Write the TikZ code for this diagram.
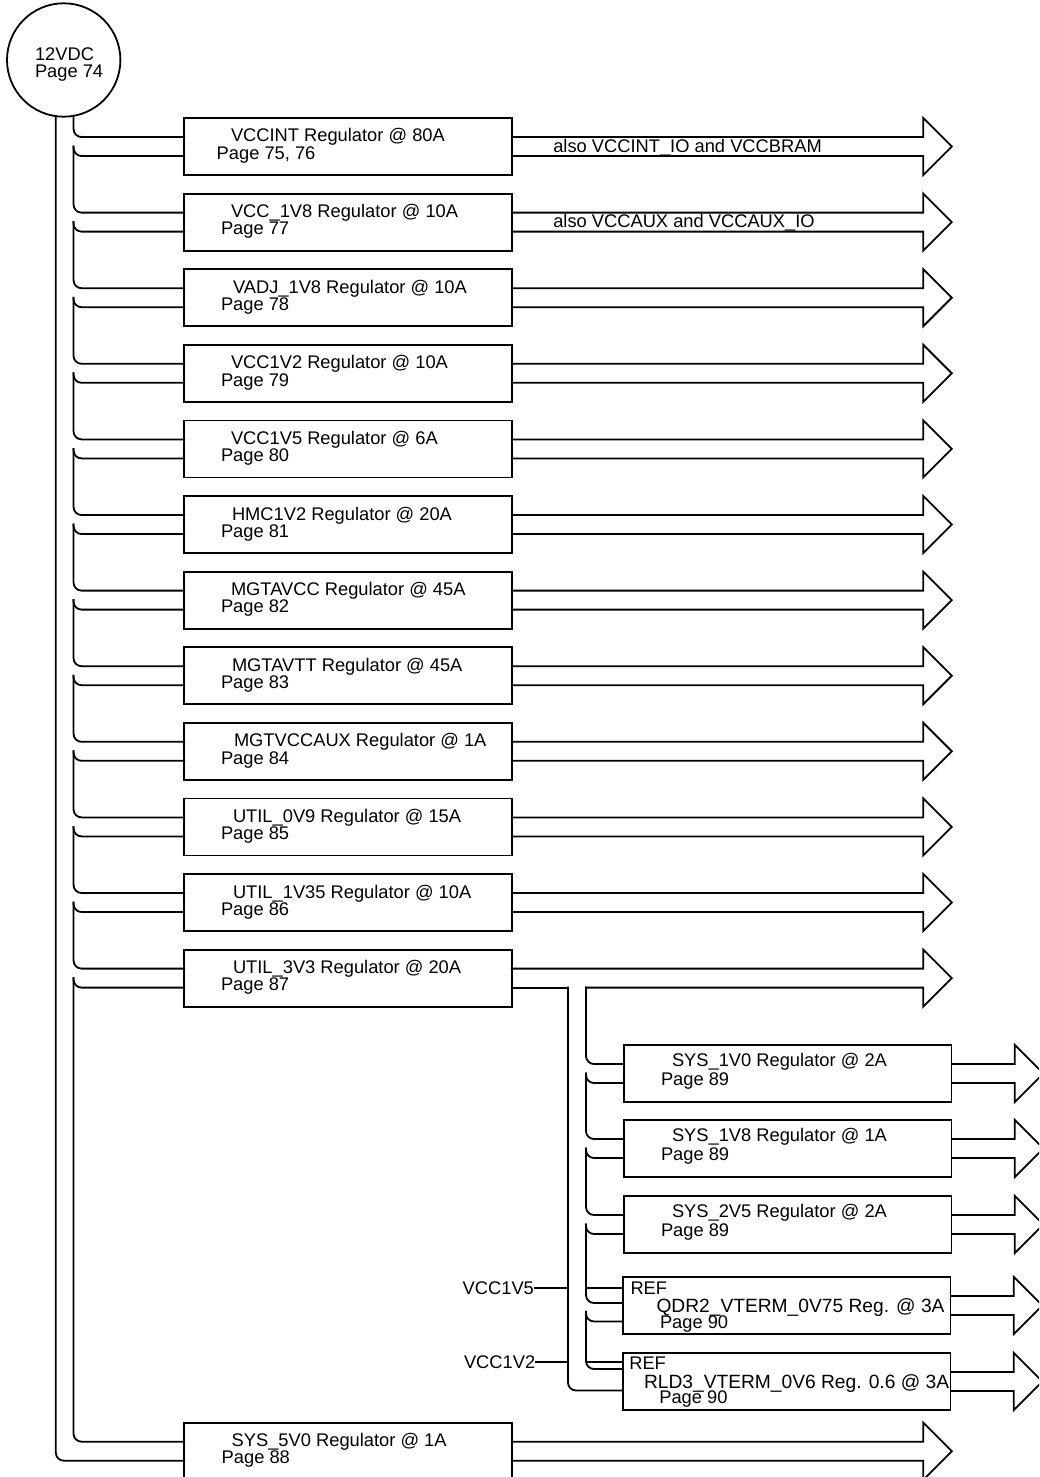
\documentclass[tikz,border=0pt]{standalone}
\usepackage{fontspec}
\setmainfont{Liberation Sans}

\begin{document}
\begin{tikzpicture}[x=1pt,y=-1pt,line width=1.8pt,
  every node/.style={font=\fontsize{18.3}{20}\selectfont, inner sep=0pt, outer sep=0pt},
  reg/.style={draw, anchor=north west, minimum width=327.5pt, minimum height=57pt},
  txt/.style={anchor=base west},
  wide/.style={font=\fontsize{19.2}{20}\selectfont},
  wire/.style={rounded corners=8pt, line cap=rect},
  outarrow/.style={insert path={-- ++(#1,0) -- ++(0,-19) -- ++(28.5,28.5) -- ++(-28.5,28.5) -- ++(0,-19)}}]
  \useasboundingbox (0,0) rectangle (1039,1477);
  \clip (0,0) rectangle (1039,1477);

  % input
  \node[draw, circle, minimum size=113.4pt] (vin) at (63.7,60) {};
  \node[txt] (vin1) at (35,61) {12VDC};
  \node[txt] (vin2) at (35,77.3) {Page 74};
  \coordinate (bus) at (vin.-80.56);
  \coordinate (gnd) at (vin.-98.82);

  % main regulators
  \node[reg] (r1) at (184.3,118) {};
  \node[txt] (r1a) at (231,142) {VCCINT Regulator @ 80A};
  \node[txt] (r1b) at (216.7,159.3) {Page 75, 76};
  \node[txt] (r1c) at (553.3,152.3) {also VCCINT\_IO and VCCBRAM};
  \node[reg] (r2) at (184.3,193.6) {};
  \node[txt] (r2a) at (231,217.6) {VCC\_1V8 Regulator @ 10A};
  \node[txt] (r2b) at (221,234.9) {Page 77};
  \node[txt] (r2c) at (553.3,227.7) {also VCCAUX and VCCAUX\_IO};
  \node[reg] (r3) at (184.3,269.2) {};
  \node[txt] (r3a) at (233,293.2) {VADJ\_1V8 Regulator @ 10A};
  \node[txt] (r3b) at (221,310.5) {Page 78};
  \node[reg] (r4) at (184.3,344.8) {};
  \node[txt] (r4a) at (231,368.8) {VCC1V2 Regulator @ 10A};
  \node[txt] (r4b) at (221,386.1) {Page 79};
  \node[reg] (r5) at (184.3,420.4) {};
  \node[txt] (r5a) at (231,444.4) {VCC1V5 Regulator @ 6A};
  \node[txt] (r5b) at (221,461.7) {Page 80};
  \node[reg] (r6) at (184.3,496) {};
  \node[txt] (r6a) at (232,520) {HMC1V2 Regulator @ 20A};
  \node[txt] (r6b) at (221,537.3) {Page 81};
  \node[reg] (r7) at (184.3,571.6) {};
  \node[txt] (r7a) at (231,595.6) {MGTAVCC Regulator @ 45A};
  \node[txt] (r7b) at (221,612.9) {Page 82};
  \node[reg] (r8) at (184.3,647.2) {};
  \node[txt] (r8a) at (232,671.2) {MGTAVTT Regulator @ 45A};
  \node[txt] (r8b) at (221,688.5) {Page 83};
  \node[reg] (r9) at (184.3,722.8) {};
  \node[txt] (r9a) at (234,746.8) {MGTVCCAUX Regulator @ 1A};
  \node[txt] (r9b) at (221,764.1) {Page 84};
  \node[reg] (r10) at (184.3,798.4) {};
  \node[txt] (r10a) at (233,822.4) {UTIL\_0V9 Regulator @ 15A};
  \node[txt] (r10b) at (221,839.7) {Page 85};
  \node[reg] (r11) at (184.3,874) {};
  \node[txt] (r11a) at (233,898) {UTIL\_1V35 Regulator @ 10A};
  \node[txt] (r11b) at (221,915.3) {Page 86};
  \node[reg] (r12) at (184.3,949.6) {};
  \node[txt] (r12a) at (233,973.6) {UTIL\_3V3 Regulator @ 20A};
  \node[txt] (r12b) at (221,990.9) {Page 87};
  \node[reg] (r13) at (184.3,1422.7) {};
  \node[txt] (r13a) at (231.7,1446.7) {SYS\_5V0 Regulator @ 1A};
  \node[txt] (r13b) at (221.7,1463.3) {Page 88};

  % outputs
  \draw ([yshift=9.5pt]r1.east) [outarrow=411.5] -- ([yshift=-9.5pt]r1.east);
  \draw ([yshift=9.5pt]r2.east) [outarrow=411.5] -- ([yshift=-9.5pt]r2.east);
  \draw ([yshift=9.5pt]r3.east) [outarrow=411.5] -- ([yshift=-9.5pt]r3.east);
  \draw ([yshift=9.5pt]r4.east) [outarrow=411.5] -- ([yshift=-9.5pt]r4.east);
  \draw ([yshift=9.5pt]r5.east) [outarrow=411.5] -- ([yshift=-9.5pt]r5.east);
  \draw ([yshift=9.5pt]r6.east) [outarrow=411.5] -- ([yshift=-9.5pt]r6.east);
  \draw ([yshift=9.5pt]r7.east) [outarrow=411.5] -- ([yshift=-9.5pt]r7.east);
  \draw ([yshift=9.5pt]r8.east) [outarrow=411.5] -- ([yshift=-9.5pt]r8.east);
  \draw ([yshift=9.5pt]r9.east) [outarrow=411.5] -- ([yshift=-9.5pt]r9.east);
  \draw ([yshift=9.5pt]r10.east) [outarrow=411.5] -- ([yshift=-9.5pt]r10.east);
  \draw ([yshift=9.5pt]r11.east) [outarrow=411.5] -- ([yshift=-9.5pt]r11.east);
  \coordinate (sbus) at (586,987.6);
  \coordinate (tbus) at (568,987.6);
  \draw[line cap=rect] ([yshift=9.5pt]r12.east) [outarrow=411.5] -- (sbus);
  \draw[line cap=rect] ([yshift=-9.5pt]r12.east) -- (tbus);
  \draw ([yshift=9.5pt]r13.east) [outarrow=411.5] -- ([yshift=-9.5pt]r13.east);

  % 12V feed
  \draw[wire] (bus) |- ([yshift=9.5pt]r1.west);
  \draw[wire] ([yshift=-9.5pt]r1.west) -| (bus |- r1.west);
  \draw[wire] ([yshift=9.5pt]r2.west) -| (bus |- r1.west);
  \draw[wire] ([yshift=-9.5pt]r2.west) -| (bus |- r2.west);
  \draw[wire] ([yshift=9.5pt]r3.west) -| (bus |- r2.west);
  \draw[wire] ([yshift=-9.5pt]r3.west) -| (bus |- r3.west);
  \draw[wire] ([yshift=9.5pt]r4.west) -| (bus |- r3.west);
  \draw[wire] ([yshift=-9.5pt]r4.west) -| (bus |- r4.west);
  \draw[wire] ([yshift=9.5pt]r5.west) -| (bus |- r4.west);
  \draw[wire] ([yshift=-9.5pt]r5.west) -| (bus |- r5.west);
  \draw[wire] ([yshift=9.5pt]r6.west) -| (bus |- r5.west);
  \draw[wire] ([yshift=-9.5pt]r6.west) -| (bus |- r6.west);
  \draw[wire] ([yshift=9.5pt]r7.west) -| (bus |- r6.west);
  \draw[wire] ([yshift=-9.5pt]r7.west) -| (bus |- r7.west);
  \draw[wire] ([yshift=9.5pt]r8.west) -| (bus |- r7.west);
  \draw[wire] ([yshift=-9.5pt]r8.west) -| (bus |- r8.west);
  \draw[wire] ([yshift=9.5pt]r9.west) -| (bus |- r8.west);
  \draw[wire] ([yshift=-9.5pt]r9.west) -| (bus |- r9.west);
  \draw[wire] ([yshift=9.5pt]r10.west) -| (bus |- r9.west);
  \draw[wire] ([yshift=-9.5pt]r10.west) -| (bus |- r10.west);
  \draw[wire] ([yshift=9.5pt]r11.west) -| (bus |- r10.west);
  \draw[wire] ([yshift=-9.5pt]r11.west) -| (bus |- r11.west);
  \draw[wire] ([yshift=9.5pt]r12.west) -| (bus |- r11.west);
  \draw[wire] ([yshift=-9.5pt]r12.west) -| (bus |- r12.west);
  \draw[wire] ([yshift=9.5pt]r13.west) -| (bus |- r12.west);
  \draw[wire] (gnd) |- ([yshift=-9.5pt]r13.west);

  % system regulators from UTIL_3V3
  \node[reg] (s1) at (624,1045) {};
  \node[txt] (s1a) at (672,1066.7) {SYS\_1V0 Regulator @ 2A};
  \node[txt] (s1b) at (661,1085) {Page 89};
  \node[reg] (s2) at (624,1120) {};
  \node[txt] (s2a) at (672,1141.7) {SYS\_1V8 Regulator @ 1A};
  \node[txt] (s2b) at (661,1160) {Page 89};
  \node[reg] (s3) at (624,1196) {};
  \node[txt] (s3a) at (672,1217.7) {SYS\_2V5 Regulator @ 2A};
  \node[txt] (s3b) at (661,1236) {Page 89};
  \node[reg] (q) at (623,1277) {};
  \node[txt] (qa) at (630.5,1294) {REF};
  \node[txt, wide] (qb) at (656.5,1312.5) {QDR2\_VTERM\_0V75 Reg. @ 3A};
  \node[txt] (qc) at (660,1328.3) {Page 90};
  \node[reg] (rl) at (623,1353) {};
  \node[txt] (rla) at (629.3,1369.5) {REF};
  \node[txt, wide] (rlb) at (644,1388) {RLD3\_VTERM\_0V6 Reg. 0.6 @ 3A};
  \node[txt] (rlc) at (659.3,1403.5) {Page 90};

  \draw ([yshift=9.5pt]s1.east) [outarrow=63.3] -- ([yshift=-9.5pt]s1.east);
  \draw ([yshift=9.5pt]s2.east) [outarrow=63.3] -- ([yshift=-9.5pt]s2.east);
  \draw ([yshift=9.5pt]s3.east) [outarrow=63.3] -- ([yshift=-9.5pt]s3.east);
  \draw ([yshift=9.5pt]q.east) [outarrow=63.3] -- ([yshift=-9.5pt]q.east);
  \draw ([yshift=9.5pt]rl.east) [outarrow=63.3] -- ([yshift=-9.5pt]rl.east);

  \coordinate (qh) at (586,1311.7);
  \draw[wire] (sbus) |- ([yshift=9.5pt]s1.west);
  \draw[wire] ([yshift=-9.5pt]s1.west) -| (sbus |- s1.west);
  \draw[wire] ([yshift=9.5pt]s2.west) -| (sbus |- s1.west);
  \draw[wire] ([yshift=-9.5pt]s2.west) -| (sbus |- s2.west);
  \draw[wire] ([yshift=9.5pt]s3.west) -| (sbus |- s2.west);
  \draw[wire] ([yshift=-9.5pt]s3.west) -| (sbus |- s3.west);
  \draw[wire] ([yshift=2.5pt]q.west) -| (sbus |- s3.west);
  \draw[wire] ([yshift=-16pt]q.west) -| (qh);
  \draw[wire] ([yshift=12.5pt]rl.west) -| (qh);
  \draw[wire] ([yshift=-9pt]rl.west) -| (tbus);

  % references
  \node[txt] (v15) at (462.7,1294) {VCC1V5};
  \node[txt] (v12) at (464,1368) {VCC1V2};
  \draw (v15.east) -- (tbus |- v15.east);
  \draw (sbus |- v15.east) -- (q.west |- v15.east);
  \draw (v12.east) -- (tbus |- v12.east);
  \draw (sbus |- v12.east) -- (rl.west |- v12.east);
\end{tikzpicture}
\end{document}
